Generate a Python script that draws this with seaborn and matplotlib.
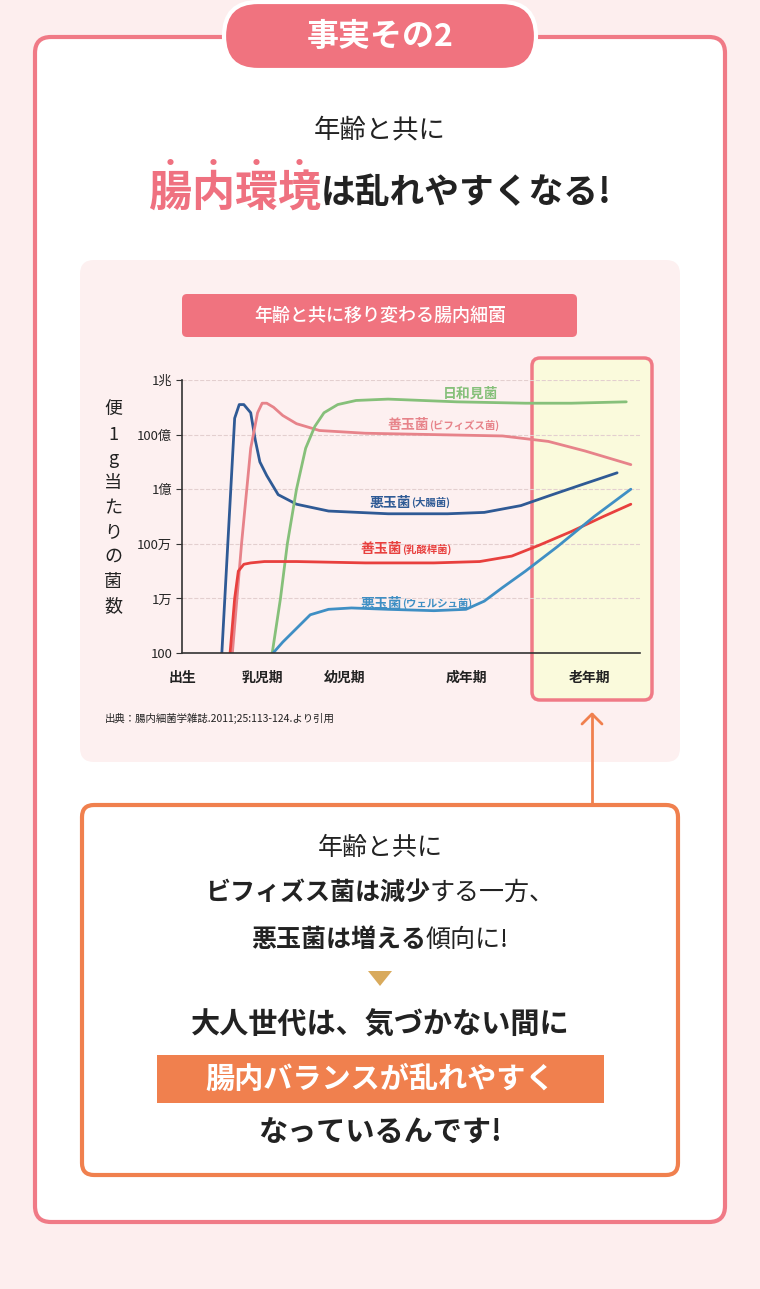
import numpy as np
import matplotlib
matplotlib.use("Agg")
import matplotlib.pyplot as plt
import seaborn as sns
from matplotlib.patches import FancyBboxPatch, Rectangle, Polygon

sns.set_style("white")
plt.rcParams["font.family"] = "sans-serif"
plt.rcParams["font.sans-serif"] = ["Noto Sans CJK JP", "DejaVu Sans"]

W, H = 760, 1289
PINK = "#f07a86"
ORANGE = "#f0804e"

# chart data: x = life stage position (0-100), y = log10(cells per g)
tick_vals = [1e2, 1e4, 1e6, 1e8, 1e10, 1e12]
tick_labels = ["100", "1万", "100万", "1億", "100億", "1兆"]
stage_names = ["出生", "乳児期", "幼児期", "成年期", "老年期"]
stage_pos = [0, 17.5, 35.5, 62, 89]

navy_x = [8.7, 10, 11.5, 12.5, 13.5, 15, 16, 17, 18.5, 21, 25, 32, 45, 58, 66, 74, 80, 87, 95]
navy_y = [2, 6, 10.6, 11.1, 11.1, 10.8, 9.8, 9.0, 8.5, 7.8, 7.45, 7.2, 7.1, 7.1, 7.15, 7.4, 7.75, 8.15, 8.6]
pink_x = [11, 13, 15, 16.5, 17.5, 18.5, 20, 22, 25, 30, 40, 55, 70, 80, 88, 98]
pink_y = [2, 6, 9.5, 10.8, 11.15, 11.15, 11.0, 10.7, 10.4, 10.15, 10.05, 10.0, 9.95, 9.75, 9.4, 8.9]
green_x = [19.7, 21.5, 23, 25, 27, 29, 31, 34, 38, 45, 60, 75, 85, 97]
green_y = [2, 4, 6, 8, 9.5, 10.3, 10.8, 11.1, 11.25, 11.3, 11.2, 11.15, 11.15, 11.2]
red_x = [10.5, 11.5, 12.3, 13.5, 15, 18, 25, 40, 55, 65, 72, 78, 85, 92, 98]
red_y = [2, 4, 5.0, 5.25, 5.3, 5.35, 5.35, 5.3, 5.3, 5.35, 5.55, 5.95, 6.45, 7.0, 7.45]
blue_x = [19.9, 22, 25, 28, 32, 37, 45, 55, 62, 66, 70, 75, 82, 90, 98]
blue_y = [2, 2.4, 2.9, 3.4, 3.6, 3.65, 3.6, 3.55, 3.6, 3.9, 4.4, 5.0, 5.9, 7.0, 8.0]

series = [
    (navy_x, navy_y, "#2f5a95", "悪玉菌", "(大腸菌)", 50, 7.5),
    (pink_x, pink_y, "#e7838a", "善玉菌", "(ビフィズス菌)", 54, 10.35),
    (green_x, green_y, "#86c07a", "日和見菌", "", 63, 11.5),
    (red_x, red_y, "#e8403e", "善玉菌", "(乳酸桿菌)", 48, 5.8),
    (blue_x, blue_y, "#3f8fc4", "悪玉菌", "(ウェルシュ菌)", 48, 3.8),
]


def fx(px):
    return px / W


def fy(py):
    return 1 - py / H


fig = plt.figure(figsize=(W / 100, H / 100), dpi=100)
fig.patch.set_facecolor("#fdeeee")
renderer = fig.canvas.get_renderer()


def box(x0, y0, x1, y1, fc, ec="none", lw=0, r=14):
    p = FancyBboxPatch((fx(x0), fy(y1)), fx(x1 - x0), (y1 - y0) / H,
                       boxstyle=f"round,pad=0,rounding_size={r / W}",
                       transform=fig.transFigure, fc=fc, ec=ec, lw=lw,
                       mutation_aspect=W / H)
    fig.add_artist(p)


def rich(py, parts, cx=380):
    texts = []
    for s, size, weight, color in parts:
        t = fig.text(0, fy(py), s, fontsize=size, fontweight=weight, color=color,
                     va="center", ha="left")
        texts.append(t)
    widths = [t.get_window_extent(renderer).width for t in texts]
    x = cx - sum(widths) / 2
    lefts = []
    for t, w in zip(texts, widths):
        t.set_x(fx(x))
        lefts.append(x)
        x += w
    return lefts, widths


# outer card
box(35, 37, 725, 1222, "white", PINK, 3, 16)
box(224, 2, 536, 70, "#f0737f", "white", 3, 34)
fig.text(fx(380), fy(37), "事実その2", fontsize=23, fontweight="bold", color="white",
         ha="center", va="center")

rich(130, [("年齢と共に", 19, "normal", "#222222")])
lefts, widths = rich(193, [("腸内環境", 31, "bold", "#ef7180"),
                           ("は乱れやすくなる!", 25, "bold", "#222222")])
cw = widths[0] / 4
for i in range(4):
    fig.text(fx(lefts[0] + cw * (i + 0.5)), fy(163), "●", fontsize=5, color="#ef7180",
             ha="center", va="center")

# chart panel
box(80, 260, 680, 762, "#fdf0f0", r=14)
box(182, 294, 577, 337, "#f0737f", r=5)
fig.text(fx(380), fy(316), "年齢と共に移り変わる腸内細菌", fontsize=13, color="white",
         ha="center", va="center", fontweight="medium")

# old age highlight
fig.add_artist(FancyBboxPatch((fx(532), fy(700)), fx(120), 342 / H,
                              boxstyle=f"round,pad=0,rounding_size={8 / W}",
                              transform=fig.transFigure, fc="#fafadc", ec=PINK, lw=2.5,
                              mutation_aspect=W / H))

ax = fig.add_axes([fx(182), fy(653), fx(458), 273 / H])
ax.set_zorder(5)
ax.set_facecolor("none")
for xs, ys, color, name, sub, lx, ly in series:
    sns.lineplot(x=xs, y=np.power(10.0, ys), ax=ax, color=color, lw=2, sort=False)
    if sub:
        ax.text(lx, 10 ** ly, name, fontsize=10, fontweight="bold", color=color,
                ha="right", va="center")
        ax.text(lx, 10 ** ly, sub, fontsize=7.5, fontweight="bold", color=color,
                ha="left", va="center")
    else:
        ax.text(lx, 10 ** ly, name, fontsize=10, fontweight="bold", color=color,
                ha="center", va="center")
ax.set_yscale("log")
ax.set_xlim(0, 100)
ax.set_ylim(1e2, 1e12)
ax.set_yticks(tick_vals)
ax.set_yticklabels(tick_labels, fontsize=9.5)
ax.minorticks_off()
ax.set_xticks([])
for v in tick_vals[1:]:
    ax.axhline(v, color="#e3cfcf", lw=0.8, ls="--", zorder=0)
for s in ["top", "right"]:
    ax.spines[s].set_visible(False)
for s in ["left", "bottom"]:
    ax.spines[s].set_color("#333333")
    ax.spines[s].set_linewidth(1.2)
ax.tick_params(axis="y", length=4, color="#333333", pad=3, left=True)
for name, p in zip(stage_names, stage_pos):
    ax.text(p, 10 ** 1.1, name, fontsize=10, fontweight="bold", color="#222222",
            ha="center", va="center", clip_on=False)

for i, ch in enumerate("便1g当たりの菌数"):
    fig.text(fx(113), fy(410 + i * 24.5), ch, fontsize=13, color="#222222",
             ha="center", va="center")

fig.text(fx(105), fy(718), "出典：腸内細菌学雑誌.2011;25:113-124.より引用", fontsize=7.5,
         color="#222222", va="center")

# arrow
fig.add_artist(plt.Line2D([fx(592), fx(592)], [fy(803), fy(714)], color=ORANGE, lw=2,
                          transform=fig.transFigure))
fig.add_artist(plt.Line2D([fx(582), fx(592), fx(602)], [fy(724), fy(714), fy(724)],
                          color=ORANGE, lw=2, transform=fig.transFigure))

# lower box
box(82, 805, 678, 1175, "white", ORANGE, 3, 12)
rich(848, [("年齢と共に", 18, "normal", "#222222")])
rich(893, [("ビフィズス菌は減少", 18, "bold", "#222222"), ("する一方、", 18, "normal", "#222222")])
rich(940, [("悪玉菌は増える", 18, "bold", "#222222"), ("傾向に!", 18, "normal", "#222222")])
fig.add_artist(Polygon([[fx(368), fy(971)], [fx(392), fy(971)], [fx(380), fy(986)]],
                       closed=True, fc="#d9aa5c", ec="none", transform=fig.transFigure))
rich(1025, [("大人世代は、気づかない間に", 21, "bold", "#222222")])
fig.add_artist(Rectangle((fx(157), fy(1103)), fx(447), 48 / H, fc=ORANGE, ec="none",
                         transform=fig.transFigure))
rich(1079, [("腸内バランスが乱れやすく", 21, "bold", "white")])
rich(1133, [("なっているんです!", 21, "bold", "#222222")])

fig.savefig("out.png", dpi=100, facecolor=fig.get_facecolor())
